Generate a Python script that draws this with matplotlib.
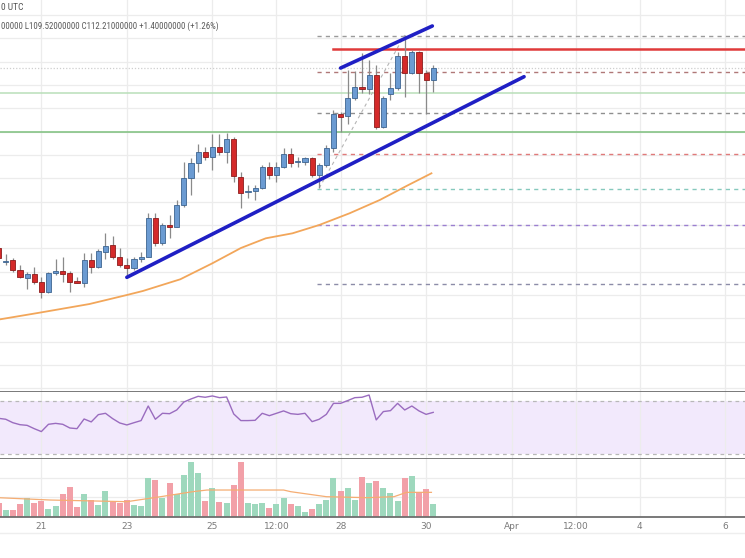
import matplotlib
matplotlib.use('Agg')
import matplotlib.pyplot as plt
import matplotlib.dates as mdates
from matplotlib import font_manager
from matplotlib.lines import Line2D
import pandas as pd

# ---------------- data ----------------
start_time = '2022-03-20 00:00'   # first 4h candle
opens = [92.01, 90.45, 90.67, 89.55, 88.69, 89.10, 88.24, 87.12, 89.25, 89.47,
         89.18, 88.35, 88.13, 90.67, 89.92, 91.60, 92.35, 91.04, 90.11, 89.74,
         90.75, 91.04, 95.34, 92.54, 94.59, 94.40, 96.83, 99.89, 101.50, 102.73,
         102.17, 103.36, 102.73, 104.19, 100.00, 98.29, 98.40, 98.70, 101.12, 100.19,
         101.05, 102.54, 101.61, 101.61, 102.06, 100.19, 101.31, 103.18, 107.02, 106.80,
         108.78, 110.01, 109.79, 111.39, 105.60, 109.21, 109.90, 113.52, 111.58, 113.93,
         111.67, 110.81]
highs = [92.35, 91.34, 90.89, 90.11, 89.36, 89.92, 88.80, 89.36, 90.75, 90.97,
         89.47, 88.73, 91.42, 91.42, 91.87, 93.66, 93.36, 91.98, 90.86, 90.97,
         91.60, 95.90, 95.90, 94.78, 95.71, 97.39, 101.68, 102.06, 103.66, 103.33,
         104.78, 104.78, 104.86, 104.48, 100.56, 99.07, 99.07, 101.31, 101.68, 101.68,
         103.18, 103.18, 102.24, 102.24, 102.17, 101.50, 103.55, 107.47, 107.28, 111.95,
         111.84, 113.82, 113.07, 112.51, 109.04, 111.58, 114.00, 115.87, 114.19, 114.08,
         111.95, 112.51]
lows = [90.56, 90.11, 89.36, 88.62, 87.39, 87.98, 86.38, 87.03, 88.99, 88.24,
        87.12, 88.06, 87.61, 89.18, 89.74, 90.75, 90.75, 89.92, 88.99, 89.55,
        90.48, 91.01, 92.24, 92.35, 93.10, 94.33, 96.57, 97.95, 100.56, 101.87,
        100.75, 102.43, 101.50, 99.44, 96.46, 97.58, 97.39, 98.59, 99.71, 99.44,
        100.94, 101.05, 101.05, 101.31, 100.00, 98.73, 101.12, 102.77, 105.04, 105.90,
        108.59, 109.34, 109.26, 105.38, 105.42, 108.59, 109.71, 108.96, 111.50, 109.34,
        107.02, 109.52]
closes = [90.86, 90.59, 89.55, 88.73, 89.10, 88.17, 87.12, 89.25, 89.47, 89.10,
          88.24, 88.13, 90.67, 89.92, 91.71, 92.24, 91.04, 90.11, 89.74, 90.75,
          90.97, 95.41, 92.54, 94.59, 94.33, 96.83, 99.89, 101.57, 102.73, 102.17,
          103.36, 102.73, 104.19, 100.08, 98.21, 98.43, 98.70, 101.12, 100.19, 101.05,
          102.54, 101.50, 101.68, 102.06, 100.19, 101.31, 103.18, 107.02, 106.69, 108.78,
          110.01, 109.79, 111.39, 105.60, 108.81, 109.90, 113.52, 111.58, 113.93, 111.58,
          110.83, 112.21]
volumes = [4.2, 2.0, 2.0, 3.7, 5.5, 4.2, 4.7, 2.3, 3.2, 6.7,
           9.0, 3.0, 6.7, 5.0, 3.5, 7.7, 4.5, 4.2, 5.0, 3.5,
           3.3, 11.7, 11.0, 5.7, 10.0, 6.7, 12.5, 16.3, 13.0, 4.8,
           8.5, 4.5, 4.0, 9.5, 16.3, 4.2, 3.8, 4.0, 2.5, 3.8,
           5.7, 3.7, 3.2, 1.5, 2.2, 3.8, 5.0, 11.7, 7.7, 8.5,
           5.0, 12.0, 10.0, 10.7, 8.5, 7.0, 4.8, 11.5, 12.3, 7.3,
           8.3, 3.7]
rsi = [56.9, 56.2, 53.6, 52.1, 51.6, 49.1, 46.9, 52.4, 53.1, 52.4,
       49.6, 49.1, 56.4, 54.2, 59.7, 60.7, 56.7, 53.4, 51.9, 53.6,
       55.2, 66.2, 56.2, 60.7, 60.4, 63.2, 69.2, 71.5, 73.5, 72.8,
       73.8, 72.5, 73.0, 60.2, 55.2, 55.2, 55.4, 60.7, 58.9, 60.7,
       62.5, 60.4, 59.9, 60.7, 54.4, 56.2, 59.9, 68.2, 68.2, 70.3,
       72.5, 72.8, 74.5, 55.7, 62.0, 62.7, 68.2, 63.2, 66.2, 62.5,
       59.9, 61.4]
ema_times = ['2022-03-20 00:00', '2022-03-20 23:00', '2022-03-22 03:00', '2022-03-23 00:00',
             '2022-03-23 09:00', '2022-03-24 06:00', '2022-03-25 00:00', '2022-03-25 16:00',
             '2022-03-26 06:00', '2022-03-26 21:00', '2022-03-27 12:00', '2022-03-28 05:00',
             '2022-03-28 22:00', '2022-03-29 13:00', '2022-03-30 03:00']
ema_values = [84.0, 84.77, 85.74, 86.75, 87.20, 88.51, 90.30, 92.01,
              93.10, 93.66, 94.59, 95.90, 97.39, 98.96, 100.38]
vol_ma_times = ['2022-03-20 00:00', '2022-03-21 05:00', '2022-03-23 00:00', '2022-03-23 19:00',
                '2022-03-24 13:00', '2022-03-24 21:00', '2022-03-26 16:00', '2022-03-26 20:00',
                '2022-03-27 16:00', '2022-03-28 15:00', '2022-03-29 06:00', '2022-03-29 13:00',
                '2022-03-30 03:00']
vol_ma_values = [5.7, 5.0, 4.5, 6.0, 7.5, 8.0, 8.0, 7.5, 6.0, 5.7, 6.0, 7.3, 7.3]

# drawings
support_line = (('2022-03-23 00:00', 88.73), ('2022-04-01 07:00', 111.20))
channel_top = (('2022-03-28 00:00', 112.17), ('2022-03-30 03:30', 116.88))
resistance_start, resistance_price = '2022-03-27 19:30', 114.30
green_levels = [109.41, 105.01]
last_price = 112.21
fib_start = '2022-03-27 11:00'
fib_prices = [115.76, 111.73, 107.13, 102.58, 98.59, 94.59, 87.95]
fib_anchor = (('2022-03-27 12:00', 98.73), ('2022-03-29 12:00', 115.87))

tick_times = ['2022-03-21', '2022-03-23', '2022-03-25', '2022-03-26 12:00', '2022-03-28',
              '2022-03-30', '2022-04-01', '2022-04-02 12:00', '2022-04-04', '2022-04-06']
tick_labels = ['21', '23', '25', '12:00', '28', '30', 'Apr', '12:00', '4', '6']
# visible parts of the legend lines (the rest lies beyond the left border)
header_line1 = '0 UTC'
header_line2 = '00000 L109.52000000 C112.21000000 +1.40000000 (+1.26%)'

# ---------------- styling ----------------
W, H = 745, 558
UP_FILL, UP_EDGE = '#6b9bd2', '#3d6490'
DN_FILL, DN_EDGE = '#d42a2a', '#8c1c1c'
WICK = '#8a8a8a'
VOL_UP, VOL_DN = '#9ed8bd', '#f2a0a8'
GRID = '#ececec'

narrow = None
for fam in ['Liberation Sans Narrow', 'Roboto Condensed', 'Liberation Sans']:
    try:
        font_manager.findfont(fam, fallback_to_default=False)
        narrow = fam
        break
    except Exception:
        pass
if narrow is None:
    narrow = 'DejaVu Sans'

t = pd.date_range(start_time, periods=len(opens), freq='4h')
tx = mdates.date2num(t.to_pydatetime())
step = 1.0 / 6.0  # 4h in days
x_left = tx[0] + 0.1965 * step
x_right = tx[0] + 104.76 * step

def tn(s):
    return mdates.date2num(pd.Timestamp(s).to_pydatetime())

fig = plt.figure(figsize=(W / 100, H / 100), dpi=100)
fig.patch.set_facecolor('white')

def px_rect(top, bottom):
    return [0, 1 - bottom / H, 1, (bottom - top) / H]

ax = fig.add_axes(px_rect(0, 391.7))
ax_r = fig.add_axes(px_rect(391.7, 459), sharex=ax)
ax_v = fig.add_axes(px_rect(459, 516.7), sharex=ax)

ticks = [tn(s) for s in tick_times]
for a in (ax, ax_r, ax_v):
    a.set_facecolor('white')
    for s in ('top', 'left', 'right'):
        a.spines[s].set_visible(False)
    a.spines['bottom'].set_color('#6e6e6e')
    a.spines['bottom'].set_linewidth(1.3)
    a.set_xticks(ticks)
    a.grid(axis='x', color=GRID, lw=0.9)
    a.set_yticks([])
    a.tick_params(axis='both', length=0)
    a.set_axisbelow(True)
ax.tick_params(labelbottom=False)
ax_r.tick_params(labelbottom=False)
ax_v.set_xticklabels(tick_labels)
ax_v.tick_params(axis='x', pad=4, labelsize=6.5, labelcolor='#7a7a7a')

ax.set_xlim(x_left, x_right)

# ---- main price pane ----
ax.set_ylim(75.92, 119.79)
for p in [118.11, 115.5, 112.9, 110.28, 107.67, 105.05, 102.44, 99.83, 97.21, 94.6,
          91.99, 89.37, 86.76, 84.14, 81.53, 78.92, 76.3]:
    ax.axhline(p, color=GRID, lw=0.9, zorder=0)

# horizontal levels
ax.axhline(green_levels[0], color='#b9dfb9', lw=1.1, zorder=1)
ax.axhline(green_levels[1], color='#7cbf7c', lw=1.1, zorder=1)
ax.axhline(last_price, color='#cfcfcf', lw=0.9, ls=(0, (1, 1.5)), zorder=1)

fib_colors = ['#9a9a9a', '#b07878', '#8f8f8f', '#e07a7a', '#86c9bd', '#9b7fd0', '#8c8ca8']
fs = tn(fib_start)
for p, c in zip(fib_prices, fib_colors):
    ax.plot([fs, x_right], [p, p], color=c, lw=1.0, ls=(0, (3, 3)), zorder=1)
ax.plot([tn(fib_anchor[0][0]), tn(fib_anchor[1][0])], [fib_anchor[0][1], fib_anchor[1][1]],
        color='#b5b5b5', lw=0.8, ls=(0, (3, 3)), zorder=1)

ax.plot([tn(resistance_start), x_right], [resistance_price, resistance_price],
        color='#e03a3a', lw=1.8, zorder=2)

# EMA
ax.plot([tn(s) for s in ema_times], ema_values, color='#f2a65a', lw=1.3, zorder=2)

# candles
ups = [c >= o for o, c in zip(opens, closes)]
ax.vlines(tx, lows, highs, color=WICK, lw=0.9, zorder=3)
bw = 0.72 * step
for x, o, h_, l, c, up in zip(tx, opens, highs, lows, closes, ups):
    bot, top = min(o, c), max(o, c)
    ht = max(top - bot, 0.12)
    ax.bar(x, ht, bottom=bot, width=bw, color=UP_FILL if up else DN_FILL,
           edgecolor=UP_EDGE if up else DN_EDGE, linewidth=0.6, zorder=4)

# trend lines
ax.plot([tn(support_line[0][0]), tn(support_line[1][0])], [support_line[0][1], support_line[1][1]],
        color='#1f1fc4', lw=2.6, solid_capstyle='round', zorder=5)
ax.plot([tn(channel_top[0][0]), tn(channel_top[1][0])], [channel_top[0][1], channel_top[1][1]],
        color='#1f1fc4', lw=2.6, solid_capstyle='round', zorder=5)

# ---- RSI pane ----
ax_r.set_ylim(26.2, 77.0)
for p in (40, 60):
    ax_r.axhline(p, color=GRID, lw=0.9, zorder=0)
ax_r.axhspan(30, 70, color='#f2e9fc', zorder=0.5, lw=0)
for p in (30, 70):
    ax_r.axhline(p, color='#b8b8b8', lw=0.9, ls=(0, (3, 3)), zorder=1)
ax_r.plot(tx, rsi, color='#9a6cbf', lw=1.0, zorder=3)

# ---- volume pane ----
ax_v.set_ylim(0, 17.3)
for p in (6.0, 11.7):
    ax_v.axhline(p, color=GRID, lw=0.9, zorder=0)
ax_v.bar(tx, volumes, width=0.84 * step, color=[VOL_UP if u else VOL_DN for u in ups],
         linewidth=0, zorder=2)
ax_v.plot([tn(s) for s in vol_ma_times], vol_ma_values, color='#f5ad73', lw=0.9, zorder=3)

# time-axis bottom border
fig.add_artist(Line2D([0, 1], [1 - 533 / H, 1 - 533 / H], color='#eeeeee', lw=1.0))

# header texts
fig.text(1 / W, 1 - 8 / H, header_line1, ha='left', va='center', fontsize=6.8,
         color='#555555', family=[narrow, 'DejaVu Sans'])
fig.text(1 / W, 1 - 26.5 / H, header_line2, ha='left', va='center', fontsize=6.4,
         color='#5a5a5a', family=[narrow, 'DejaVu Sans'])

fig.savefig('out.png', dpi=100, facecolor='white')
